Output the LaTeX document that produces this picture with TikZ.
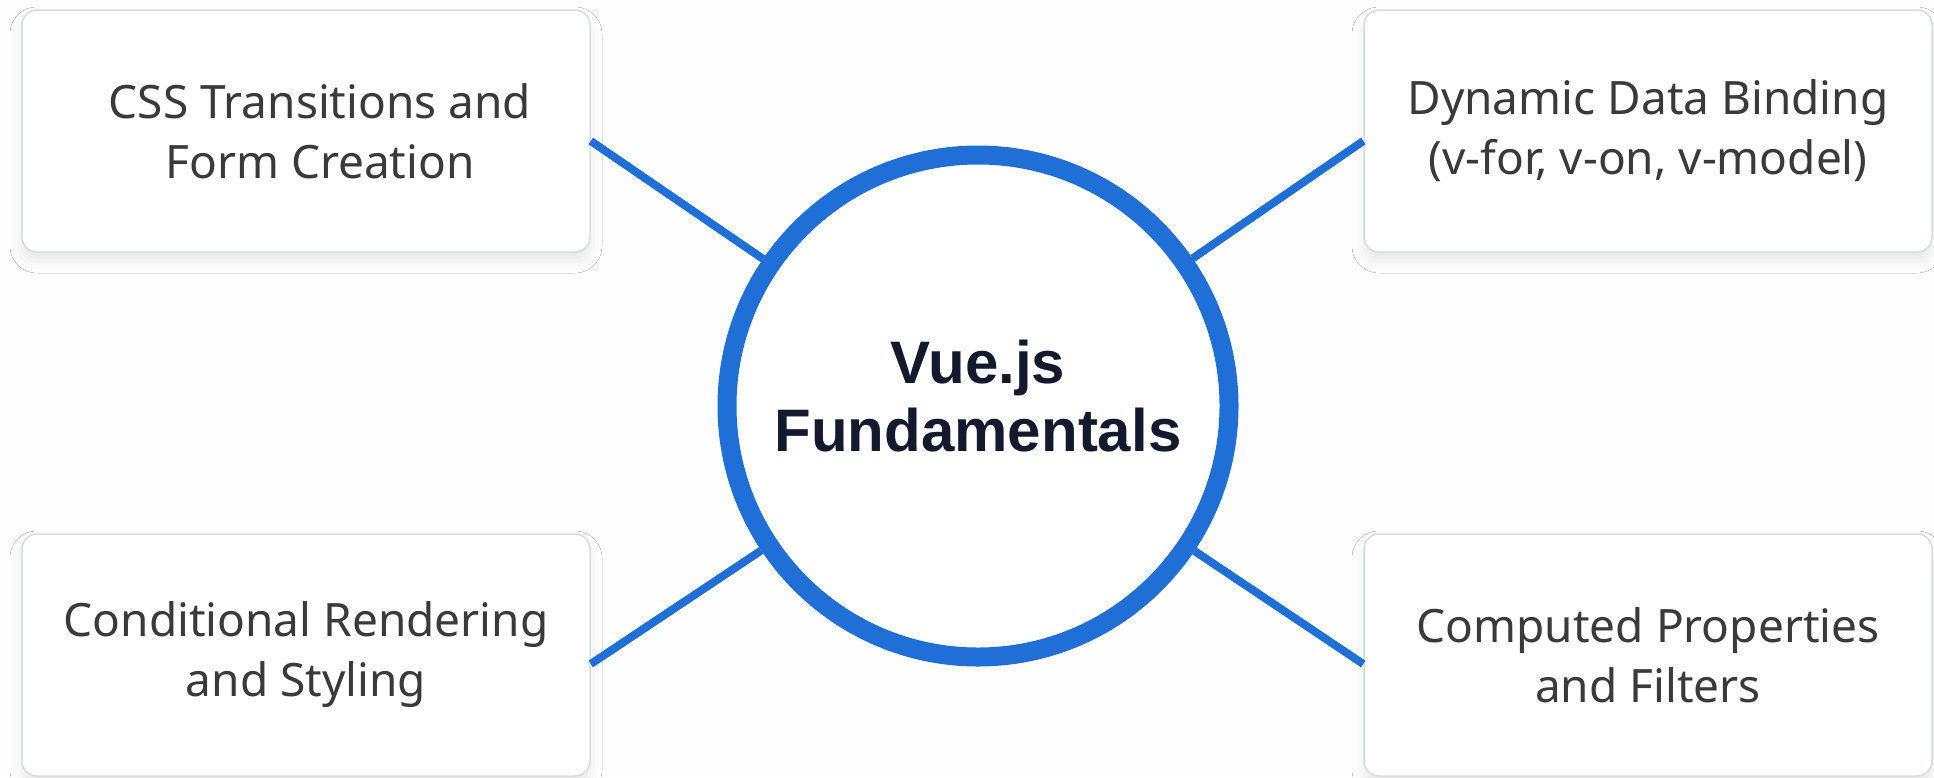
\documentclass[tikz,border=0pt]{standalone}
\usepackage{fontspec}
\setmainfont{Noto Sans}
\newfontfamily\titlefont{Liberation Sans}
\usetikzlibrary{shadows.blur}
\definecolor{vueblue}{HTML}{1F6FD6}
\definecolor{boxline}{HTML}{D8DCE2}
\definecolor{boxtext}{HTML}{3A3A3A}
\definecolor{titletext}{HTML}{141A2E}
\definecolor{bg}{HTML}{FEFEFE}
\begin{document}
\begin{tikzpicture}[x={(1pt,0)},y={(0,-1pt)},
  topic/.style={draw=boxline, line width=1.5pt, fill=white, rounded corners=15pt,
    minimum width=568pt, minimum height=242pt, align=center, text=boxtext,
    font=\fontsize{46}{60}\selectfont,
    blur shadow={shadow xshift=0pt, shadow yshift=-9pt, shadow blur radius=12pt, shadow opacity=9}},
  hub/.style={circle, draw=vueblue, line width=19pt, fill=white, minimum size=502pt},
  conn/.style={draw=vueblue, line width=8pt}]
\fill[bg] (0,0) rectangle (1934,777);
\useasboundingbox (0,0) rectangle (1934,777);
\node[topic] (tl) at (306,131) {\hspace*{28pt}CSS Transitions and\\\hspace*{28pt}Form Creation};
\node[topic] (tr) at (1648,131) {Dynamic Data Binding\\(v-for, v-on, v-model)};
\node[topic] (bl) at (306,655) {Conditional Rendering\\and Styling};
\node[topic] (br) at (1648,655) {Computed Properties\\and Filters};
\node[hub] (c) at (978,406) {};
\node[align=center, text=titletext, font=\titlefont\bfseries\fontsize{60}{68}\selectfont] (ctext) at (978,396) {Vue.js\\Fundamentals};
\draw[conn] ([yshift=-10pt]tl.east) -- (c);
\draw[conn] ([yshift=-10pt]tr.west) -- (c);
\draw[conn] ([yshift=-9pt]bl.east) -- (c);
\draw[conn] ([yshift=-9pt]br.west) -- (c);
\end{tikzpicture}
\end{document}
